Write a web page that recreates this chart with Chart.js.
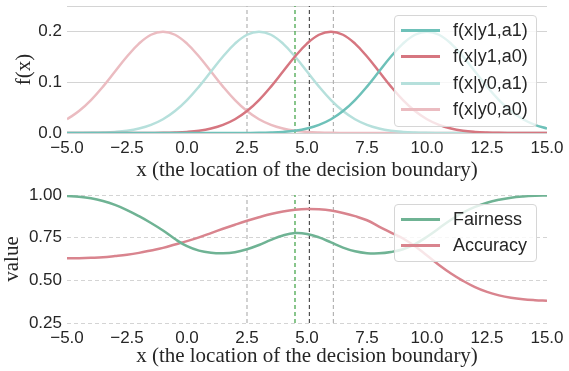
<!DOCTYPE html>
<html>
<head>
<meta charset="utf-8">
<script src="https://cdn.jsdelivr.net/npm/chart.js@4.4.1/dist/chart.umd.min.js"></script>
<style>
  body { margin: 0; background: #fff; }
  #wrap { position: relative; width: 569px; height: 371px; overflow: hidden; }
  canvas { position: absolute; left: 0; }
  #top-graph { top: 0; }
  #bottom-graph { top: 185px; }
  .legend {
    position: absolute; box-sizing: border-box;
    background: rgba(255,255,255,0.8); border: 1px solid #d6d6d6; border-radius: 4px;
    font-family: "Liberation Sans", Arial, sans-serif; font-size: 18px; color: #262626;
  }
  .legend .row { position: absolute; left: 0; height: 20px; }
  .legend .swatch { position: absolute; left: 6px; width: 39px; height: 3px; top: 9px; }
  .legend .txt { position: absolute; left: 58px; top: 0; line-height: 20px; white-space: nowrap; }
</style>
</head>
<body>
<div id="wrap">
  <canvas id="top-graph" width="569" height="185"></canvas>
  <canvas id="bottom-graph" width="569" height="186"></canvas>
  <div class="legend" id="top-legend" style="left:394px;top:15px;width:143px;height:112px;"></div>
  <div class="legend" id="bottom-legend" style="left:394px;top:204px;width:143px;height:58px;"></div>
</div>
<script>
// x locations of the decision boundary
let xs = [-5,-4.5,-4,-3.5,-3,-2.5,-2,-1.5,-1,-0.5,0,0.5,1,1.5,2,2.5,3,3.5,4,4.5,5,
          5.5,6,6.5,7,7.5,8,8.5,9,9.5,10,10.5,11,11.5,12,12.5,13,13.5,14,14.5,15];

// densities (top panel)
let fY1A1 = [0,0,0,0,0,0,0,0,0,0,0,0,0,0,
             .0001,.0002,.0004,.0010,.0022,.0045,.0088,.0159,.0270,.0432,.0648,.0913,.1210,.1506,.1760,.1934,
             .1995,.1934,.1760,.1506,.1210,.0913,.0648,.0432,.0270,.0159,.0088];
let fY1A0 = [0,0,0,0,0,0,
             .0001,.0002,.0004,.0010,.0022,.0045,.0088,.0159,.0270,.0432,.0648,.0913,.1210,.1506,.1760,.1934,
             .1995,.1934,.1760,.1506,.1210,.0913,.0648,.0432,.0270,.0159,.0088,.0045,.0022,.0010,.0004,.0002,.0001,0,0];
let fY0A1 = [.0001,.0002,.0004,.0010,.0022,.0045,.0088,.0159,.0270,.0432,.0648,.0913,.1210,.1506,.1760,.1934,
             .1995,.1934,.1760,.1506,.1210,.0913,.0648,.0432,.0270,.0159,.0088,.0045,.0022,.0010,.0004,.0002,.0001,
             0,0,0,0,0,0,0,0];
let fY0A0 = [.0270,.0432,.0648,.0913,.1210,.1506,.1760,.1934,.1995,.1934,.1760,.1506,.1210,.0913,.0648,.0432,
             .0270,.0159,.0088,.0045,.0022,.0010,.0004,.0002,.0001,
             0,0,0,0,0,0,0,0,0,0,0,0,0,0,0,0];

// metrics (bottom panel)
let fairness = [0.994,0.990,0.981,0.965,0.942,0.912,0.876,0.836,0.792,0.742,0.700,0.674,0.662,0.659,0.665,0.682,
                0.707,0.737,0.763,0.777,0.772,0.752,0.722,0.692,0.670,0.659,0.658,0.666,0.682,0.712,0.755,
                0.805,0.855,0.897,0.930,0.955,0.972,0.984,0.991,0.995,0.997];
let accuracy = [0.629,0.630,0.632,0.635,0.642,0.650,0.661,0.675,0.690,0.710,0.730,0.752,0.777,0.802,0.826,0.849,
                0.870,0.889,0.903,0.913,0.918,0.916,0.909,0.895,0.876,0.852,0.815,0.780,0.745,0.700,0.645,
                0.590,0.540,0.497,0.460,0.432,0.412,0.398,0.389,0.384,0.381];

// vertical reference lines
let markers = [2.5, 4.5, 5.1, 6.1];
let markerColour = ['#b4b4b4', '#3aa040', '#505050', '#b4b4b4'];

let topTicks = [0, 0.1, 0.2, 0.25];
let bottomTicks = [0.25, 0.5, 0.75, 1.0];
let xTicks = [-5, -2.5, 0, 2.5, 5, 7.5, 10, 12.5, 15];

let topNames = ['f(x|y1,a1)', 'f(x|y1,a0)', 'f(x|y0,a1)', 'f(x|y0,a0)'];
let topColour = ['#6ec1b9', '#d67680', '#b6e0dc', '#ebbcc1'];
let bottomNames = ['Fairness', 'Accuracy'];
let bottomColour = ['#6fb394', '#d9848e'];

const tickFont = { family: '"Liberation Sans", Arial, sans-serif', size: 17 };
const titleFont = { family: '"Liberation Serif", "Times New Roman", serif', size: 21 };

function pts(vals) {
    return vals.map((v, i) => ({ x: xs[i], y: v }));
}

function markerSets(ymin, ymax) {
    return markers.map((m, i) => ({
        data: [{ x: m, y: ymin }, { x: m, y: ymax }],
        borderColor: markerColour[i], borderWidth: 1.2, borderDash: [4, 3],
        pointRadius: 0, tension: 0
    }));
}

function makeChart(id, sets, yMin, yMax, yTicks, yTitle, yTitlePad, topPad, xAxisH, gridDash, yLabel) {
    let ctx = document.querySelector(id).getContext('2d');
    return new Chart(ctx, {
        type: 'line',
        data: { datasets: sets },
        options: {
            responsive: false,
            animation: false,
            layout: { padding: { top: topPad, right: 22, left: 0, bottom: 0 } },
            plugins: { legend: { display: false }, tooltip: { enabled: false } },
            elements: { point: { radius: 0 } },
            scales: {
                x: {
                    type: 'linear', min: -5, max: 15,
                    afterBuildTicks: s => { s.ticks = xTicks.map(v => ({ value: v })); },
                    afterFit: s => { s.height = xAxisH; s.paddingLeft = 0; s.paddingRight = 0; },
                    ticks: { font: tickFont, color: '#262626', padding: 5, maxRotation: 0,
                             callback: v => (v < 0 ? '\u2212' + (-v).toFixed(1) : v.toFixed(1)) },
                    grid: { display: false, drawTicks: false },
                    border: { display: false },
                    title: { display: true, text: 'x (the location of the decision boundary)',
                             font: titleFont, color: '#262626', padding: { top: 0, bottom: 2 } }
                },
                y: {
                    type: 'linear', min: yMin, max: yMax,
                    afterBuildTicks: s => { s.ticks = yTicks.map(v => ({ value: v })); },
                    afterFit: s => { s.width = 67; s.paddingTop = 0; s.paddingBottom = 0; },
                    ticks: { font: tickFont, color: '#262626', padding: 5, callback: yLabel },
                    grid: { color: '#d4d4d4', lineWidth: 1, drawTicks: false },
                    border: { display: false, dash: gridDash },
                    title: { display: true, text: yTitle, font: titleFont, color: '#262626',
                             padding: { top: yTitlePad, bottom: 0 } }
                }
            }
        }
    });
}

function topChart() {
    let sets = topNames.map((n, i) => ({
        label: n,
        data: pts([fY1A1, fY1A0, fY0A1, fY0A0][i]),
        borderColor: topColour[i], borderWidth: 2.5, tension: 0.4
    }));
    sets = sets.concat(markerSets(0, 0.25));
    makeChart('#top-graph', sets, 0, 0.25, topTicks, 'f(x)', 12, 6, 52, [],
        v => (v == 0.25 ? '' : v.toFixed(1)));
}

function bottomChart() {
    let sets = bottomNames.map((n, i) => ({
        label: n,
        data: pts([fairness, accuracy][i]),
        borderColor: bottomColour[i], borderWidth: 2.5, tension: 0.4
    }));
    sets = sets.concat(markerSets(0.25, 1.0));
    makeChart('#bottom-graph', sets, 0.25, 1.0, bottomTicks, 'value', 0, 10, 48, [4, 3],
        v => v.toFixed(2));
}

function buildLegend(id, names, colours, rowTop, rowStep) {
    let box = document.querySelector(id);
    names.forEach((n, i) => {
        let row = document.createElement('div');
        row.className = 'row';
        row.style.top = (rowTop + i * rowStep) + 'px';
        row.innerHTML = '<span class="swatch" style="background:' + colours[i] + '"></span>' +
                        '<span class="txt">' + n + '</span>';
        box.appendChild(row);
    });
}

function pageLoaded() {
    topChart();
    bottomChart();
    buildLegend('#top-legend', topNames, topColour, 4, 26.4);
    buildLegend('#bottom-legend', bottomNames, bottomColour, 4, 25.7);
}

pageLoaded();
</script>
</body>
</html>
